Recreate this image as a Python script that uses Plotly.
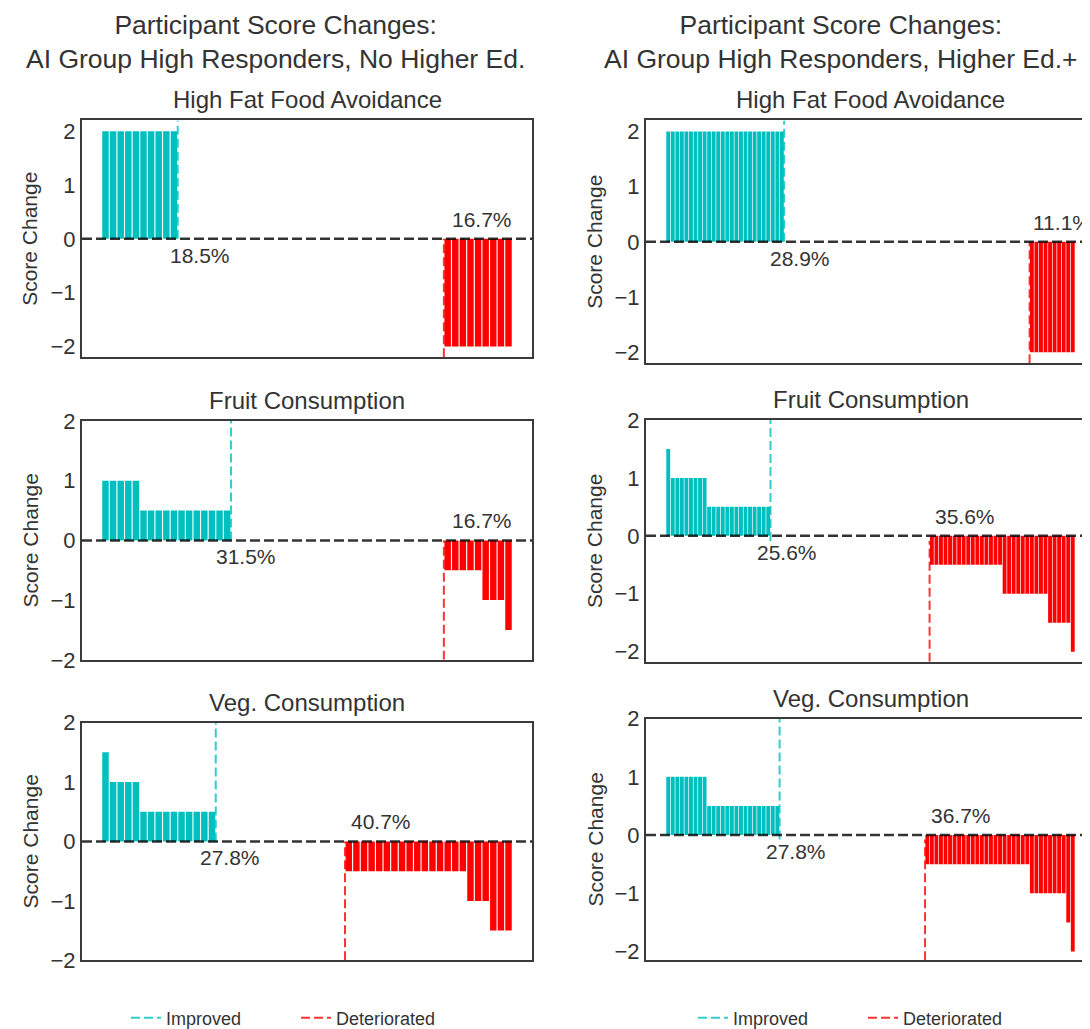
import plotly.graph_objects as go

# ---------------- data ----------------
N_NO_HE = 54
N_HE = 90

# sorted score changes, as (level, number of participants) runs
hffa_noHE_levels = [2, 0, -2]
hffa_noHE_counts = [10, 35, 9]
fruit_noHE_levels = [1.0, 0.5, 0, -0.5, -1.0, -1.5]
fruit_noHE_counts = [5, 12, 28, 5, 3, 1]
veg_noHE_levels = [1.5, 1.0, 0.5, 0, -0.5, -1.0, -1.5]
veg_noHE_counts = [1, 4, 10, 17, 16, 3, 3]

hffa_HE_levels = [2, 0, -2]
hffa_HE_counts = [26, 54, 10]
fruit_HE_levels = [1.5, 1.0, 0.5, 0, -0.5, -1.0, -1.5, -2.0]
fruit_HE_counts = [1, 8, 14, 35, 16, 10, 5, 1]
veg_HE_levels = [1.0, 0.5, 0, -0.5, -1.0, -1.5, -2.0]
veg_HE_counts = [9, 16, 32, 23, 8, 1, 1]

improved_pct_noHE = ["18.5%", "31.5%", "27.8%"]
deteriorated_pct_noHE = ["16.7%", "16.7%", "40.7%"]
improved_pct_HE = ["28.9%", "25.6%", "27.8%"]
deteriorated_pct_HE = ["11.1%", "35.6%", "36.7%"]

measures = ["High Fat Food Avoidance", "Fruit Consumption", "Veg. Consumption"]
column_titles = [
    "Participant Score Changes:<br>AI Group High Responders, No Higher Ed.",
    "Participant Score Changes:<br>AI Group High Responders, Higher Ed.+",
]
y_label = "Score Change"
legend_names = ["Improved", "Deteriorated"]

# ---------------- styling / layout ----------------
W, H = 1090, 1029
TEXT = "#333333"
FONT = "Liberation Sans, Arial, sans-serif"
CYAN = "#00BFBF"
RED = "#FF0000"
CYAN_LINE = "rgba(0,191,191,0.8)"
RED_LINE = "rgba(255,0,0,0.8)"
SPINE = "#3a3a3a"

# axes boxes in pixels: (left, top, right, bottom)
boxes = [
    [(74, 113, 524, 351), (74, 415, 524, 655), (74, 718, 524, 957)],
    [(638, 113, 1087, 357), (638, 414, 1087, 657), (638, 714, 1087, 957)],
]
imp_label_shift = [[22, 15, 14], [16, 16, 16]]
det_label_shift = [[6, 6, 4], [1, 3, 4]]
title_centers = [267, 833]
ylabel_x = [22, 587]

columns = [
    (N_NO_HE,
     [(hffa_noHE_levels, hffa_noHE_counts), (fruit_noHE_levels, fruit_noHE_counts),
      (veg_noHE_levels, veg_noHE_counts)],
     improved_pct_noHE, deteriorated_pct_noHE),
    (N_HE,
     [(hffa_HE_levels, hffa_HE_counts), (fruit_HE_levels, fruit_HE_counts),
      (veg_HE_levels, veg_HE_counts)],
     improved_pct_HE, deteriorated_pct_HE),
]

fig = go.Figure()
layout = dict(
    width=W, height=H, autosize=False,
    margin=dict(l=0, r=0, t=0, b=0),
    paper_bgcolor="white", plot_bgcolor="white",
    font=dict(family=FONT, color=TEXT),
)
annotations = []
shapes = []

k = 0
for c, (n, series, imp_pct, det_pct) in enumerate(columns):
    legend_id = "legend" if c == 0 else "legend2"
    for r, (levels, counts) in enumerate(series):
        k += 1
        xa = "x" if k == 1 else f"x{k}"
        ya = "y" if k == 1 else f"y{k}"
        xkey = "xaxis" if k == 1 else f"xaxis{k}"
        ykey = "yaxis" if k == 1 else f"yaxis{k}"

        values = []
        for lv, cnt in zip(levels, counts):
            values += [lv] * cnt
        idx = list(range(len(values)))
        colors = [CYAN if v > 0 else RED for v in values]
        n_imp = sum(1 for v in values if v > 0)
        n_det = sum(1 for v in values if v < 0)

        fig.add_trace(go.Bar(
            x=idx, y=values, width=0.85, marker=dict(color=colors, line=dict(width=0)),
            xaxis=xa, yaxis=ya, showlegend=False, hoverinfo="skip",
        ))

        # matplotlib-like autoscale, at least [-2, 2]
        dmin, dmax = min(min(values), 0), max(max(values), 0)
        rng = dmax - dmin
        ylo = min(dmin - 0.05 * rng, -2)
        yhi = max(dmax + 0.05 * rng, 2)
        ymid = (ylo + yhi) / 2
        xlo = -0.4 - 0.05 * (n - 0.2)
        xhi = n - 0.6 + 0.05 * (n - 0.2)

        x_imp = n_imp - 0.5
        x_det = n - n_det - 0.5

        fig.add_trace(go.Scatter(
            x=[x_imp, x_imp], y=[ymid, yhi], mode="lines",
            line=dict(color=CYAN_LINE, width=2, dash="9px,4px"),
            xaxis=xa, yaxis=ya, name=legend_names[0], legend=legend_id,
            showlegend=(r == 0), hoverinfo="skip",
        ))
        fig.add_trace(go.Scatter(
            x=[x_det, x_det], y=[ylo, ymid], mode="lines",
            line=dict(color=RED_LINE, width=2, dash="9px,4px"),
            xaxis=xa, yaxis=ya, name=legend_names[1], legend=legend_id,
            showlegend=(r == 0), hoverinfo="skip",
        ))

        L, T, R, B = boxes[c][r]
        layout[xkey] = dict(
            domain=[L / W, R / W], range=[xlo, xhi], anchor=ya,
            showticklabels=False, ticks="", showgrid=False, zeroline=False,
            showline=True, mirror=True, linecolor=SPINE, linewidth=2,
        )
        layout[ykey] = dict(
            domain=[1 - B / H, 1 - T / H], range=[ylo, yhi], anchor=xa,
            tickvals=[-2, -1, 0, 1, 2], ticks="", showgrid=False, zeroline=False,
            showline=True, mirror=True, linecolor=SPINE, linewidth=2,
            tickfont=dict(size=22, color=TEXT), automargin=False,
        )

        shapes.append(dict(
            type="line", xref=f"{xa} domain", yref=ya, x0=0, x1=1, y0=0, y1=0,
            line=dict(color="rgba(0,0,0,0.8)", width=2.5, dash="10px,4px"), layer="above",
        ))

        # y-axis label
        annotations.append(dict(
            text=y_label, xref="paper", yref="paper", textangle=-90,
            x=ylabel_x[c] / W, y=1 - (T + B) / 2 / H, xanchor="center", yanchor="middle",
            showarrow=False, font=dict(size=21, color=TEXT),
        ))
        # subplot title
        annotations.append(dict(
            text=measures[r], xref="paper", yref="paper",
            x=(L + R) / 2 / W, y=1 - T / H, xanchor="center", yanchor="bottom",
            yshift=5, showarrow=False, font=dict(size=24, color=TEXT),
        ))
        annotations.append(dict(
            text=imp_pct[r], xref=xa, yref=ya, x=x_imp, y=0,
            xanchor="center", yanchor="top", xshift=imp_label_shift[c][r], yshift=-3,
            showarrow=False, font=dict(size=21, color=TEXT),
        ))
        annotations.append(dict(
            text=det_pct[r], xref=xa, yref=ya, x=x_det, y=0,
            xanchor="left", yanchor="bottom", xshift=det_label_shift[c][r], yshift=6,
            showarrow=False, font=dict(size=21, color=TEXT),
        ))

    annotations.append(dict(
        text=column_titles[c], xref="paper", yref="paper",
        x=title_centers[c] / W, y=1 - 34 / H, xanchor="center", yanchor="middle",
        showarrow=False, font=dict(size=26.5, color=TEXT), align="center",
    ))

layout["annotations"] = annotations
layout["shapes"] = shapes
legend_common = dict(
    orientation="h", y=1 - 1015 / H, xanchor="center", yanchor="middle",
    font=dict(size=18, color=TEXT), bgcolor="rgba(0,0,0,0)",
    entrywidth=125, entrywidthmode="pixels",
)
layout["legend"] = dict(x=288 / W, **legend_common)
layout["legend2"] = dict(x=855 / W, **legend_common)
fig.update_layout(**layout)
fig.write_html("out.html")
